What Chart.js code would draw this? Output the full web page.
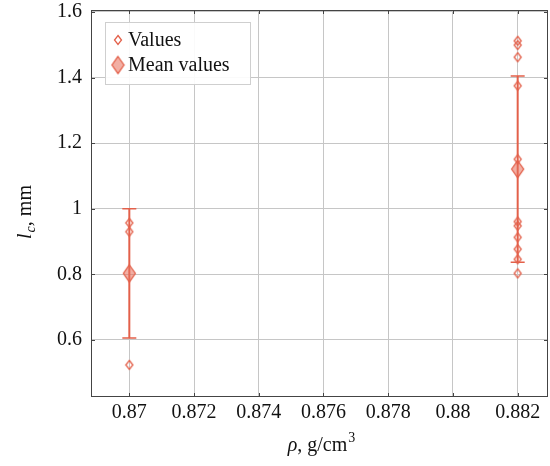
<!DOCTYPE html>
<html>
<head>
<meta charset="utf-8">
<script src="https://cdn.jsdelivr.net/npm/chart.js@4.4.1/dist/chart.umd.min.js"></script>
<style>
  html, body { margin: 0; padding: 0; background: #fff; }
  #wrap { width: 550px; height: 466px; }
</style>
</head>
<body>
<div id="wrap"><canvas id="myChart" width="550" height="466"></canvas></div>
<script>
// data
const densities = [0.87, 0.882];
const valuesAt870 = [0.957, 0.930, 0.524];
const valuesAt882 = [1.512, 1.499, 1.462, 1.375, 1.151, 0.961, 0.948, 0.913, 0.877, 0.846, 0.803];
const meanValues = [0.803, 1.121];
const stdValues = [0.197, 0.284];

const xTicks = [0.87, 0.872, 0.874, 0.876, 0.878, 0.88, 0.882];
const xTickLabels = ['0.87', '0.872', '0.874', '0.876', '0.878', '0.88', '0.882'];
const yTicks = [0.6, 0.8, 1, 1.2, 1.4, 1.6];
const yTickLabels = ['0.6', '0.8', '1', '1.2', '1.4', '1.6'];

const RED = '#e3604a';
const RED_FILL = 'rgba(232, 110, 90, 0.55)';
const SERIF = '"Liberation Serif", "DejaVu Serif", serif';

// tall diamond marks like pgfplots
function makeDiamond(w, h, fill, stroke, lw) {
	const c = document.createElement('canvas');
	c.width = w + 3;
	c.height = h + 3;
	const g = c.getContext('2d');
	const cx = c.width / 2, cy = c.height / 2;
	g.beginPath();
	g.moveTo(cx, cy - h / 2);
	g.lineTo(cx + w / 2, cy);
	g.lineTo(cx, cy + h / 2);
	g.lineTo(cx - w / 2, cy);
	g.closePath();
	if (fill) { g.fillStyle = fill; g.fill(); }
	g.strokeStyle = stroke;
	g.lineWidth = lw;
	g.stroke();
	return c;
}
const smallDiamond = makeDiamond(7, 9, null, RED, 1.3);
const bigDiamond = makeDiamond(12, 17, RED_FILL, RED, 1.3);

const valuePoints = [];
valuesAt870.forEach(v => valuePoints.push({x: densities[0], y: v}));
valuesAt882.forEach(v => valuePoints.push({x: densities[1], y: v}));
const meanPoints = densities.map((d, i) => ({x: d, y: meanValues[i]}));

const frame = {
	id: 'frame',
	beforeDatasetsDraw(chart) {
		const {ctx, scales: {x, y}} = chart;
		ctx.save();
		ctx.strokeStyle = RED;
		densities.forEach((d, i) => {
			const px = x.getPixelForValue(d);
			const top = y.getPixelForValue(meanValues[i] + stdValues[i]);
			const bot = y.getPixelForValue(meanValues[i] - stdValues[i]);
			ctx.lineWidth = 2;
			ctx.beginPath();
			ctx.moveTo(px, top);
			ctx.lineTo(px, bot);
			ctx.stroke();
			ctx.lineWidth = 1.5;
			ctx.beginPath();
			ctx.moveTo(px - 7, top); ctx.lineTo(px + 7, top);
			ctx.moveTo(px - 7, bot); ctx.lineTo(px + 7, bot);
			ctx.stroke();
		});
		ctx.restore();
	},
	afterDraw(chart) {
		const {ctx, chartArea: a, scales: {x, y}} = chart;
		ctx.save();
		// axis box and inner ticks
		ctx.strokeStyle = '#444';
		ctx.lineWidth = 1;
		ctx.strokeRect(a.left + 0.5, a.top + 0.5, a.right - a.left - 1, a.bottom - a.top - 1);
		ctx.beginPath();
		xTicks.forEach(v => {
			const px = Math.round(x.getPixelForValue(v)) + 0.5;
			ctx.moveTo(px, a.bottom); ctx.lineTo(px, a.bottom - 4);
			ctx.moveTo(px, a.top); ctx.lineTo(px, a.top + 4);
		});
		yTicks.forEach(v => {
			const py = Math.round(y.getPixelForValue(v)) + 0.5;
			ctx.moveTo(a.left, py); ctx.lineTo(a.left + 4, py);
			ctx.moveTo(a.right, py); ctx.lineTo(a.right - 4, py);
		});
		ctx.stroke();

		// legend
		const lx = 105, ly = 22, lw = 145, lh = 62;
		ctx.fillStyle = 'rgba(255,255,255,0.9)';
		ctx.fillRect(lx, ly, lw, lh);
		ctx.strokeStyle = '#cfcfcf';
		ctx.strokeRect(lx + 0.5, ly + 0.5, lw, lh);
		ctx.drawImage(smallDiamond, 118 - smallDiamond.width / 2, 40 - smallDiamond.height / 2);
		ctx.drawImage(bigDiamond, 118 - bigDiamond.width / 2, 65 - bigDiamond.height / 2);
		ctx.fillStyle = '#111';
		ctx.font = '20px ' + SERIF;
		ctx.textBaseline = 'alphabetic';
		ctx.textAlign = 'left';
		ctx.fillText('Values', 128, 46);
		ctx.fillText('Mean values', 128, 71);

		// x title: rho, g/cm^3
		ctx.font = 'italic 20px ' + SERIF;
		const p1 = 'ρ';
		const w1 = ctx.measureText(p1).width;
		ctx.font = '20px ' + SERIF;
		const p2 = ', g/cm';
		const w2 = ctx.measureText(p2).width;
		ctx.font = '14px ' + SERIF;
		const w3 = ctx.measureText('3').width;
		let sx = 321 - (w1 + w2 + w3) / 2;
		const base = 451;
		ctx.font = 'italic 20px ' + SERIF;
		ctx.fillText(p1, sx, base);
		sx += w1;
		ctx.font = '20px ' + SERIF;
		ctx.fillText(p2, sx, base);
		sx += w2 + 1;
		ctx.font = '14px ' + SERIF;
		ctx.fillText('3', sx, base - 9);

		// y title: l_c, mm
		ctx.translate(31, 212);
		ctx.rotate(-Math.PI / 2);
		ctx.font = 'italic 20px ' + SERIF;
		const q1 = 'l';
		const v1 = ctx.measureText(q1).width;
		ctx.font = 'italic 14px ' + SERIF;
		const v2 = ctx.measureText('c').width;
		ctx.font = '20px ' + SERIF;
		const q3 = ', mm';
		const v3 = ctx.measureText(q3).width;
		let tx = -(v1 + v2 + v3 + 1) / 2;
		ctx.font = 'italic 20px ' + SERIF;
		ctx.fillText(q1, tx, 0);
		tx += v1 + 1;
		ctx.font = 'italic 14px ' + SERIF;
		ctx.fillText('c', tx, 4);
		tx += v2;
		ctx.font = '20px ' + SERIF;
		ctx.fillText(q3, tx, 0);
		ctx.restore();
	}
};

const ctx = document.getElementById('myChart').getContext('2d');
const myChart = new Chart(ctx, {
	type: 'scatter',
	data: {
		datasets: [{
			label: 'Values',
			data: valuePoints,
			pointStyle: smallDiamond,
			borderColor: RED,
			backgroundColor: 'transparent'
		}, {
			label: 'Mean values',
			data: meanPoints,
			pointStyle: bigDiamond,
			borderColor: RED,
			backgroundColor: RED_FILL
		}]
	},
	options: {
		responsive: false,
		animation: false,
		layout: { autoPadding: false, padding: { top: 10, right: 2, left: 0, bottom: 0 } },
		plugins: {
			legend: { display: false },
			tooltip: { enabled: false }
		},
		scales: {
			x: {
				type: 'linear',
				min: 0.868816,
				max: 0.882937,
				afterBuildTicks: s => { s.ticks = xTicks.map(v => ({value: v})); },
				afterFit: s => { s.height = 69; s.paddingLeft = 0; s.paddingRight = 0; },
				grid: { color: '#c6c6c6', drawTicks: false },
				border: { display: false },
				ticks: {
					padding: 4,
					color: '#111',
					font: { family: SERIF, size: 20 },
					callback: (v, i) => xTickLabels[i]
				}
			},
			y: {
				min: 0.4262,
				max: 1.606,
				afterBuildTicks: s => { s.ticks = yTicks.map(v => ({value: v})); },
				afterFit: s => { s.width = 91; s.paddingTop = 0; s.paddingBottom = 0; },
				grid: { color: '#c6c6c6', drawTicks: false },
				border: { display: false },
				ticks: {
					padding: 9,
					color: '#111',
					font: { family: SERIF, size: 20 },
					callback: (v, i) => yTickLabels[i]
				}
			}
		}
	},
	plugins: [frame]
});
</script>
</body>
</html>
